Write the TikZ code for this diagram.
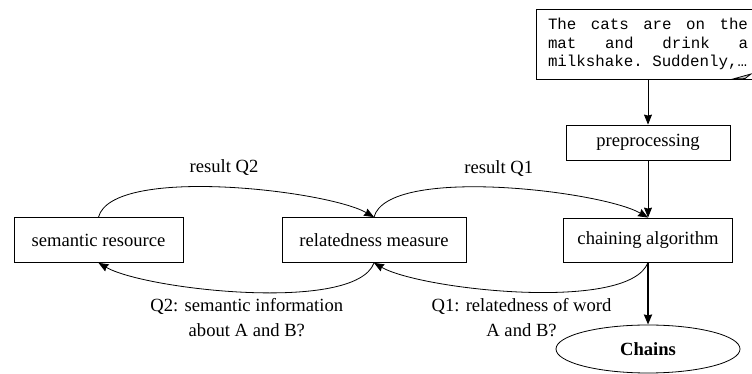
\documentclass[tikz,border=0pt]{standalone}
\usepackage{fontspec}
\setmainfont{Liberation Serif}
\newfontfamily\docfont{Liberation Mono}
\usetikzlibrary{arrows.meta,shapes.geometric}
\newcommand\notetextfont{\docfont\fontsize{15.8}{18.5}\selectfont\frenchspacing\hyphenpenalty10000\relax}

\begin{document}
\begin{tikzpicture}[->,>={Stealth[length=10pt,width=8pt,inset=1pt]},x=1pt,y=1pt,
    line width=0.8pt,
    box/.style={rectangle,draw,font=\fontsize{18.6}{22}\selectfont,minimum height=45pt},
    note/.style={rectangle,draw,text width=200pt,inner xsep=12pt,minimum height=70pt,
      align=justify,font=\notetextfont},
    lbl/.style={font=\fontsize{18.6}{25}\selectfont,align=center}]

  \useasboundingbox (0,0) rectangle (752,374);

  \node[note] (doc) at (648,330) {The cats are on the\linebreak mat and drink a\linebreak milkshake. Suddenly,…};
  \filldraw[-,fill=gray!45] (733,295) -- (751,300) -- (745,295.4) -- cycle;

  \node[box,minimum width=164pt,minimum height=35pt] (pre) at (648,231.5) {preprocessing};
  \node[box,minimum width=169pt,minimum height=44pt] (chain) at (648,134) {chaining algorithm};
  \node[box,minimum width=184pt] (rel) at (374,134) {relatedness measure};
  \node[box,minimum width=169pt] (sem) at (98.5,134) {semantic resource};
  \node[ellipse,draw,minimum width=184pt,minimum height=48pt,
    font=\fontsize{18.6}{22}\selectfont\bfseries] (chains) at (648,25) {Chains};

  \path (doc) edge (pre)
        (pre) edge (chain);
  \draw[line width=2.6pt] (chain) -- (chains);

  % answers go up
  \draw (sem.north) to[out=75,in=150,looseness=0.5]
    node[lbl,above=8pt] {result Q2} (rel.north);
  \draw (rel.north) to[out=75,in=150,looseness=0.5]
    node[lbl,above=8pt] {result Q1} (chain.north);

  % questions go down
  \draw (chain.south) to[out=-110,in=-30,looseness=0.5]
    node[lbl,below=3pt] {Q1: relatedness of word\\A and B?} (rel.south);
  \draw (rel.south) to[out=-110,in=-30,looseness=0.5]
    node[lbl,below=3pt] {Q2: semantic information\\about A and B?} (sem.south);
\end{tikzpicture}
\end{document}
